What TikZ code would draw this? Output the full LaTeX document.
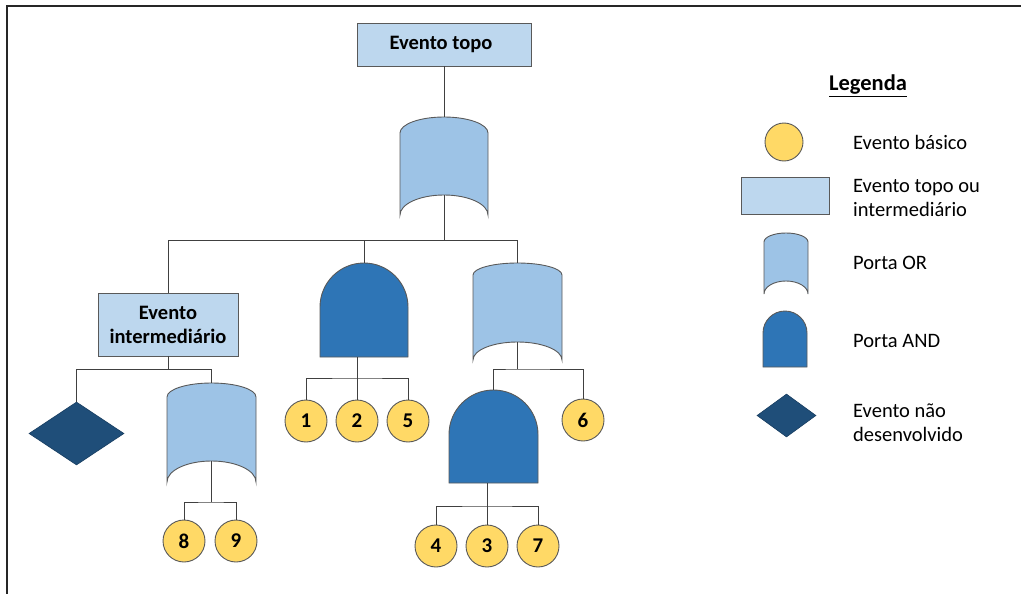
\documentclass[tikz,border=0pt]{standalone}
\usepackage{fontspec}
\setmainfont{Carlito}
\usetikzlibrary{shapes.geometric,calc}
\definecolor{boxblue}{HTML}{BDD7EE}
\definecolor{orblue}{HTML}{9DC3E6}
\definecolor{andblue}{HTML}{2E75B6}
\definecolor{dmblue}{HTML}{1F4E79}
\definecolor{evyellow}{HTML}{FFD966}
\definecolor{edge}{HTML}{595959}
\definecolor{wire}{HTML}{404040}
\newcommand{\orgate}[7]{%
\draw[orstyle] (#2,#5) .. controls (#2,{#5-0.552*(#5-#4)}) and ({(#2+#3)/2-0.276*(#3-#2)},#4) .. ({(#2+#3)/2},#4)
 .. controls ({(#2+#3)/2+0.276*(#3-#2)},#4) and (#3,{#5-0.552*(#5-#4)}) .. (#3,#5) -- (#3,#6)
 .. controls (#3,{#6-0.552*(#6-#7)}) and ({(#2+#3)/2+0.276*(#3-#2)},#7) .. ({(#2+#3)/2},#7)
 .. controls ({(#2+#3)/2-0.276*(#3-#2)},#7) and (#2,{#6-0.552*(#6-#7)}) .. (#2,#6) -- cycle;
\coordinate (#1-top) at ({(#2+#3)/2},#4);
\coordinate (#1-bot) at ({(#2+#3)/2},#7);}
\newcommand{\andgate}[5]{%
\draw[andstyle] (#2,#5) -- (#2,{#4+(#3-#2)/2})
 .. controls (#2,{#4+0.448*(#3-#2)/2}) and ({(#2+#3)/2-0.276*(#3-#2)},#4) .. ({(#2+#3)/2},#4)
 .. controls ({(#2+#3)/2+0.276*(#3-#2)},#4) and (#3,{#4+0.448*(#3-#2)/2}) .. (#3,{#4+(#3-#2)/2})
 -- (#3,#5) -- cycle;
\coordinate (#1-top) at ({(#2+#3)/2},#4);
\coordinate (#1-bot) at ({(#2+#3)/2},#5);}
\tikzset{
 orstyle/.style={fill=orblue,draw=edge,line width=0.9pt},
 andstyle/.style={fill=andblue,draw=edge,line width=0.9pt},
 evbox/.style={rectangle,fill=boxblue,draw=edge,line width=0.9pt,inner sep=0pt,align=center,font=\bfseries\fontsize{20.5}{24}\selectfont},
 basic/.style={circle,fill=evyellow,draw=edge,line width=0.9pt,minimum size=42pt,inner sep=0pt,font=\bfseries\fontsize{21}{24}\selectfont},
 undev/.style={diamond,fill=dmblue,draw=dmblue!80!black,line width=0.6pt,inner sep=0pt},
 conn/.style={draw=wire,line width=0.9pt},
 legtext/.style={anchor=west,align=left,inner sep=0pt,font=\fontsize{20.5}{24}\selectfont}
}
\begin{document}
\begin{tikzpicture}[x=1pt,y=-1pt]
\useasboundingbox (0,0) rectangle (1021,594);
% frame
\draw[line width=2pt,color=black!85] (7,594) -- (7,6) -- (1021,6);
% top event
\node[evbox,minimum width=174pt,minimum height=43pt] (top) at (444,44.5) {\raisebox{-2pt}{Evento topo}\hspace{6pt}};
\orgate{g1}{400}{488}{117}{133}{215}{195}
\draw[conn] (top.south) -- (g1-top);
\coordinate (j1) at (444,240);
\draw[conn] (g1-bot) -- (j1);
% intermediate event
\node[evbox,minimum width=140pt,minimum height=63pt] (ei) at (168,324.5) {Evento\\intermediário};
\draw[conn] (ei.north) |- (j1);
% AND gate 1
\andgate{a1}{320}{408}{263}{357}
\draw[conn] (a1-top) -- (a1-top |- j1);
% OR gate 3
\orgate{g3}{473}{562}{263}{275}{360}{342}
\draw[conn] (g3-top) |- (j1);
% under intermediate
\coordinate (j2) at (168,369);
\draw[conn] (ei.south) -- (j2);
\node[undev,minimum width=95pt,minimum height=63pt] (d1) at (76.5,433.5) {};
\orgate{g2}{167}{256}{383}{397}{482}{461}
\draw[conn] (d1.north) |- (j2);
\draw[conn] (g2-top) |- (j2);
\coordinate (j3) at (211.5,502);
\draw[conn] (g2-bot) -- (j3);
\node[basic] (c8) at (184,541) {8};
\node[basic] (c9) at (236,541) {9};
\draw[conn] (c8.north) |- (j3) -| (c9.north);
% under AND 1
\node[basic] (c1) at (306,421) {1};
\node[basic] (c2) at (357,421) {2};
\node[basic] (c5) at (408,421) {5};
\coordinate (j4) at (357,378);
\draw[conn] (c2.north) -- (c2.north |- a1-bot);
\draw[conn] (c1.north) |- (j4) -| (c5.north);
% under OR 3
\coordinate (j5) at (517.5,369);
\draw[conn] (g3-bot) -- (j5);
\andgate{a2}{449}{538}{390}{483}
\node[basic] (c6) at (583,420) {6};
\draw[conn] (a2-top) |- (j5) -| (c6.north);
\node[basic] (c4) at (436,546) {4};
\node[basic] (c3) at (487,546) {3};
\node[basic] (c7) at (538,546) {7};
\coordinate (j6) at (487,506);
\draw[conn] (c3.north) -- (c3.north |- a2-bot);
\draw[conn] (c4.north) |- (j6) -| (c7.north);
% legend
\node[inner sep=0pt,font=\bfseries\fontsize{22.5}{24}\selectfont] (leg) at (868,86) {\underline{Legenda}};
\node[basic,minimum size=38pt] (lc) at (784,142) {};
\node[legtext] (lct) at (853,142) {Evento básico};
\node[evbox,minimum width=88pt,minimum height=37pt] (lb) at (785,195.5) {};
\node[legtext] (lbt) at (853,198) {Evento topo ou\\intermediário};
\orgate{lo}{764}{808}{233}{242}{294}{281}
\node[legtext] (lot) at (853,263) {Porta OR};
\andgate{la}{763}{807}{311}{367}
\node[legtext] (lat) at (853,341) {Porta AND};
\node[undev,minimum width=59pt,minimum height=43pt] (ld) at (786.5,415.5) {};
\node[legtext] (ldt) at (853,423) {Evento não\\desenvolvido};
\end{tikzpicture}
\end{document}
